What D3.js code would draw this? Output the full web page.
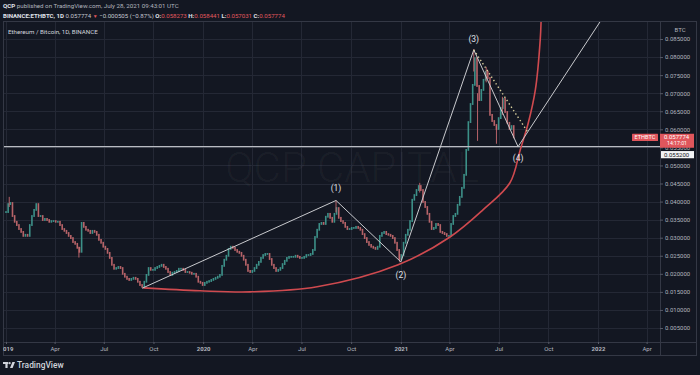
<!DOCTYPE html>
<html>
<head>
<meta charset="utf-8">
<script src="https://cdn.jsdelivr.net/npm/d3@7"></script>
<style>
  html, body { margin: 0; padding: 0; background: #131722; }
  svg { display: block; }
  text { font-family: Roboto, "Noto Sans", sans-serif; }
</style>
</head>
<body>
<script>
const startDate = "2019-01-01"
const stepDays = 4
const closes = [
  0.0371, 0.0393, 0.0396, 0.0360, 0.0344, 0.0335, 0.0324, 0.0316, 0.0305, 0.0308,
  0.0305, 0.0335, 0.0360, 0.0377, 0.0393, 0.0360, 0.0360, 0.0349, 0.0352, 0.0349,
  0.0344, 0.0346, 0.0346, 0.0344, 0.0344, 0.0335, 0.0324, 0.0319, 0.0313, 0.0305,
  0.0299, 0.0288, 0.0283, 0.0272, 0.0261, 0.0341, 0.0330, 0.0322, 0.0319, 0.0313,
  0.0319, 0.0316, 0.0308, 0.0294, 0.0286, 0.0275, 0.0269, 0.0258, 0.0244, 0.0225,
  0.0214, 0.0216, 0.0219, 0.0216, 0.0200, 0.0192, 0.0186, 0.0183, 0.0186, 0.0189,
  0.0186, 0.0178, 0.0169, 0.0164, 0.0178, 0.0197, 0.0216, 0.0211, 0.0211, 0.0216,
  0.0219, 0.0222, 0.0225, 0.0219, 0.0214, 0.0205, 0.0197, 0.0203, 0.0205, 0.0208,
  0.0214, 0.0214, 0.0211, 0.0205, 0.0205, 0.0203, 0.0200, 0.0200, 0.0192, 0.0178,
  0.0175, 0.0169, 0.0175, 0.0178, 0.0180, 0.0183, 0.0186, 0.0189, 0.0192, 0.0197,
  0.0222, 0.0239, 0.0250, 0.0269, 0.0275, 0.0272, 0.0266, 0.0261, 0.0258, 0.0250,
  0.0239, 0.0225, 0.0208, 0.0205, 0.0208, 0.0216, 0.0225, 0.0233, 0.0244, 0.0252,
  0.0255, 0.0255, 0.0241, 0.0225, 0.0216, 0.0208, 0.0211, 0.0216, 0.0227, 0.0236,
  0.0244, 0.0247, 0.0247, 0.0247, 0.0250, 0.0247, 0.0244, 0.0244, 0.0247, 0.0252,
  0.0252, 0.0255, 0.0266, 0.0302, 0.0322, 0.0338, 0.0341, 0.0338, 0.0358, 0.0366,
  0.0355, 0.0344, 0.0366, 0.0382, 0.0355, 0.0346, 0.0341, 0.0330, 0.0324, 0.0324,
  0.0327, 0.0327, 0.0330, 0.0327, 0.0322, 0.0310, 0.0299, 0.0288, 0.0280, 0.0275,
  0.0272, 0.0269, 0.0275, 0.0305, 0.0313, 0.0316, 0.0310, 0.0308, 0.0305, 0.0299,
  0.0286, 0.0266, 0.0241, 0.0252, 0.0286, 0.0308, 0.0322, 0.0346, 0.0405, 0.0418,
  0.0432, 0.0443, 0.0432, 0.0399, 0.0385, 0.0366, 0.0344, 0.0324, 0.0327, 0.0338,
  0.0335, 0.0316, 0.0313, 0.0310, 0.0305, 0.0305, 0.0338, 0.0360, 0.0366, 0.0391,
  0.0413, 0.0438, 0.0474, 0.0543, 0.0620, 0.0670, 0.0723, 0.0797, 0.0720, 0.0681,
  0.0709, 0.0737, 0.0759, 0.0742, 0.0640, 0.0623, 0.0612, 0.0601, 0.0631, 0.0659,
  0.0684, 0.0648, 0.0618, 0.0601, 0.0609, 0.057774
]

// visible long wicks
const spikeDates = ["2019-01-07", "2019-05-16", "2020-09-03", "2020-12-30", "2021-02-05",
                    "2021-05-16", "2021-05-23", "2021-06-08", "2021-06-27", "2021-07-08"]
const spikeLows  = [0.0385, 0.0245, 0.0370, 0.0232, 0.0425, 0.0760, 0.0568, 0.0730, 0.0560, 0.0640]
const spikeHighs = [0.0413, 0.0275, 0.0403, 0.0255, 0.0452, 0.0822, 0.0700, 0.0773, 0.0610, 0.0690]

// drawings
const waveDates  = ["2019-09-10", "2020-09-03", "2021-01-01", "2021-05-16", "2021-08-06"]
const wavePrices = [0.0160, 0.0403, 0.0233, 0.0820, 0.0552]
const waveLabels = ["", "(1)", "(2)", "(3)", "(4)"]
const rayDates  = ["2021-08-06", "2022-01-23"]
const rayPrices = [0.0552, 0.0939]
const dotDates  = ["2021-05-16", "2021-08-25"]
const dotPrices = [0.0820, 0.0590]
const curveDates  = ["2019-09-12", "2019-12-26", "2020-03-28", "2020-07-30", "2020-12-27", "2021-04-02",
                     "2021-06-02", "2021-07-22", "2021-08-10", "2021-08-25", "2021-09-07", "2021-09-16", "2021-09-18"]
const curvePrices = [0.0161, 0.0153, 0.0150, 0.0164, 0.0225, 0.0302,
                     0.0377, 0.0452, 0.0543, 0.0618, 0.0709, 0.0847, 0.0920]
const levelPrice = 0.0552
const lastPrice = 0.057774

const yTicks = d3.range(1, 18).map(i => i * 0.005)

const W = 700, H = 375
const pane = { left: 3, right: 660, top: 22, bottom: 342 }
const parse = d3.utcParse("%Y-%m-%d")

const x = d3.scaleUtc()
  .domain([parse("2019-01-01"), parse("2022-01-01")])
  .range([6, 598])
const y = d3.scaleLinear().domain([0.005, 0.085]).range([328, 39])

const svg = d3.select("body").append("svg")
  .attr("width", W).attr("height", H)
  .attr("xmlns", "http://www.w3.org/2000/svg")

svg.append("rect").attr("width", W).attr("height", H).attr("fill", "#131722")

const defs = svg.append("defs")
defs.append("clipPath").attr("id", "paneClip").append("rect")
  .attr("x", pane.left).attr("y", pane.top)
  .attr("width", pane.right - pane.left).attr("height", pane.bottom - pane.top)
defs.append("clipPath").attr("id", "axisClip").append("rect")
  .attr("x", pane.left).attr("y", 0).attr("width", pane.right - pane.left).attr("height", 14)

const xa = x.copy().domain([x.invert(pane.left), x.invert(pane.right)]).range([pane.left, pane.right])
const xTicks = xa.ticks(d3.utcMonth.every(3))

// grid
const g = svg.append("g").attr("clip-path", "url(#paneClip)")
g.selectAll(".vg").data(xTicks).enter().append("line")
  .attr("x1", d => Math.round(x(d)) + 0.5).attr("x2", d => Math.round(x(d)) + 0.5)
  .attr("y1", pane.top).attr("y2", pane.bottom)
  .attr("stroke", "#242835").attr("stroke-width", 1)
g.selectAll(".hg").data(yTicks).enter().append("line")
  .attr("x1", pane.left).attr("x2", pane.right)
  .attr("y1", d => Math.round(y(d)) + 0.5).attr("y2", d => Math.round(y(d)) + 0.5)
  .attr("stroke", "#242835").attr("stroke-width", 1)

// watermark
g.append("text")
  .attr("x", 352).attr("y", 182)
  .attr("text-anchor", "middle")
  .attr("font-size", 42).attr("font-weight", 300)
  .attr("fill", "#ffffff").attr("fill-opacity", 0.045)
  .text("QCP CAPITAL")

// candles
const candles = closes.map((c, i) => ({
  date: d3.utcDay.offset(parse(startDate), i * stepDays),
  open: i > 0 ? closes[i - 1] : c,
  close: c
}))
const bw = 1.6
g.selectAll(".candle").data(candles).enter().append("rect")
  .attr("x", d => x(d.date) - bw / 2)
  .attr("width", bw)
  .attr("y", d => Math.min(y(d.open), y(d.close)) - 0.9)
  .attr("height", d => Math.abs(y(d.open) - y(d.close)) + 1.8)
  .attr("fill", d => d.close >= d.open ? "#419d94" : "#c96b70")
  .attr("fill-opacity", 0.9)

g.selectAll(".spike").data(spikeDates).enter().append("line")
  .attr("x1", d => x(parse(d))).attr("x2", d => x(parse(d)))
  .attr("y1", (d, i) => y(spikeLows[i])).attr("y2", (d, i) => y(spikeHighs[i]))
  .attr("stroke", "#c96b70").attr("stroke-width", 0.9)

// horizontal level
g.append("line")
  .attr("x1", pane.left).attr("x2", pane.right)
  .attr("y1", y(levelPrice)).attr("y2", y(levelPrice))
  .attr("stroke", "#b9bbc2").attr("stroke-width", 1.1)

// red parabola
const line = d3.line().x(d => x(parse(d[0]))).y(d => y(d[1]))
g.append("path")
  .datum(curveDates.map((d, i) => [d, curvePrices[i]]))
  .attr("d", line.curve(d3.curveCatmullRom.alpha(0.5)))
  .attr("fill", "none").attr("stroke", "#cf4a4f").attr("stroke-width", 1.6)

const straight = d3.line().x(d => x(parse(d[0]))).y(d => y(d[1]))
g.append("path")
  .datum(waveDates.map((d, i) => [d, wavePrices[i]]))
  .attr("d", straight)
  .attr("fill", "none").attr("stroke", "#c9cace").attr("stroke-width", 1)
g.append("path")
  .datum(rayDates.map((d, i) => [d, rayPrices[i]]))
  .attr("d", straight)
  .attr("fill", "none").attr("stroke", "#c9cace").attr("stroke-width", 1)
g.append("path")
  .datum(dotDates.map((d, i) => [d, dotPrices[i]]))
  .attr("d", straight)
  .attr("fill", "none").attr("stroke", "#d8cf9c").attr("stroke-width", 1.4)
  .attr("stroke-dasharray", "1.4,2.6")

// wave labels
const labelDy = [0, -9, 16, -8, 14]
g.selectAll(".wl").data(waveLabels).enter().append("text")
  .attr("x", (d, i) => x(parse(waveDates[i])))
  .attr("y", (d, i) => y(wavePrices[i]) + labelDy[i])
  .attr("text-anchor", "middle")
  .attr("font-size", 8.5)
  .attr("fill", "#e0e2e7")
  .text(d => d)

// frame
svg.append("rect")
  .attr("x", pane.left + 0.5).attr("y", pane.top - 0.5)
  .attr("width", 693).attr("height", 356 - pane.top)
  .attr("fill", "none").attr("stroke", "#343845")
svg.append("line").attr("x1", pane.right + 0.5).attr("x2", pane.right + 0.5)
  .attr("y1", pane.top).attr("y2", 356).attr("stroke", "#343845")
svg.append("line").attr("x1", pane.left).attr("x2", 697)
  .attr("y1", pane.bottom + 0.5).attr("y2", pane.bottom + 0.5).attr("stroke", "#343845")

// right axis
const yAxis = svg.append("g")
  .attr("transform", `translate(${pane.right},0)`)
  .call(d3.axisRight(y).tickValues(yTicks).tickFormat(d3.format(".6f")).tickSize(3).tickPadding(2))
yAxis.select(".domain").remove()
yAxis.selectAll("line").attr("stroke", "#555966")
yAxis.selectAll("text").attr("font-size", 6).attr("fill", "#b2b5be").attr("font-family", "Roboto, sans-serif")

svg.append("text").attr("x", 680).attr("y", 32).attr("text-anchor", "middle")
  .attr("font-size", 6).attr("fill", "#b2b5be").text("BTC")

// bottom axis
const xAxis = svg.append("g")
  .attr("transform", `translate(0,${pane.bottom})`)
  .attr("clip-path", "url(#axisClip)")
  .call(d3.axisBottom(xa).tickValues(xTicks).tickSize(2).tickPadding(3)
    .tickFormat(d => d.getUTCMonth() === 0 ? d3.utcFormat("%Y")(d) : d3.utcFormat("%b")(d)))
xAxis.select(".domain").remove()
xAxis.selectAll("line").attr("stroke", "#555966")
xAxis.selectAll("text").attr("font-size", 6).attr("fill", "#b2b5be")
  .attr("font-family", "Roboto, sans-serif")
  .attr("font-weight", d => d.getUTCMonth() === 0 ? 700 : 400)

// price labels
const ly = y(lastPrice)
svg.append("rect").attr("x", 632).attr("y", ly - 3.6).attr("width", 26).attr("height", 7.2)
  .attr("fill", "#e0565c").attr("rx", 0.5)
svg.append("text").attr("x", 645).attr("y", ly + 2).attr("text-anchor", "middle")
  .attr("font-size", 5.6).attr("fill", "#ffffff").text("ETHBTC")
svg.append("rect").attr("x", 660).attr("y", ly - 3.6).attr("width", 34).attr("height", 14)
  .attr("fill", "#e0565c")
svg.append("text").attr("x", 664).attr("y", ly + 2).attr("font-size", 6).attr("fill", "#ffffff").text("0.057774")
svg.append("text").attr("x", 667).attr("y", ly + 8).attr("font-size", 5.2).attr("fill", "#ffffff").text("14:17:01")

const lv = y(levelPrice) + 8
svg.append("rect").attr("x", 661).attr("y", lv - 3.6).attr("width", 33).attr("height", 7.2)
  .attr("fill", "#f2f3f5")
svg.append("text").attr("x", 664).attr("y", lv + 2.2).attr("font-size", 6).attr("fill", "#131722").text("0.055200")

// header
const h1 = svg.append("text").attr("x", 3).attr("y", 8).attr("font-size", 6.2)
h1.append("tspan").attr("font-weight", 700).attr("fill", "#e0e3eb").text("QCP")
h1.append("tspan").attr("fill", "#b2b5be").text(" published on TradingView.com, July 28, 2021 09:43:01 UTC")

const red = "#e0575e"
const h2 = svg.append("text").attr("x", 3).attr("y", 17.5).attr("font-size", 6.1)
h2.append("tspan").attr("font-weight", 700).attr("fill", "#e0e3eb").text("BINANCE:ETHBTC, 1D")
h2.append("tspan").attr("fill", "#c3c6ce").text(" 0.057774 ")
h2.append("tspan").attr("fill", red).attr("font-size", 5).text("▼")
h2.append("tspan").attr("fill", "#c3c6ce").text(" −0.000505 (−0.87%) ")
const ohlc = [["O:", "0.058273"], ["H:", "0.058441"], ["L:", "0.057031"], ["C:", "0.057774"]]
ohlc.forEach(([k, v], i) => {
  h2.append("tspan").attr("fill", "#e0e3eb").attr("font-weight", 700).text((i ? " " : "") + k)
  h2.append("tspan").attr("fill", red).text(v)
})

svg.append("text").attr("x", 8).attr("y", 33.5).attr("font-size", 6.2)
  .attr("fill", "#d1d4dc").text("Ethereum / Bitcoin, 1D, BINANCE")

// TradingView logo
const logo = svg.append("g").attr("fill", "#d1d4dc")
logo.append("rect").attr("x", 3).attr("y", 362).attr("width", 5.2).attr("height", 2)
logo.append("rect").attr("x", 5.4).attr("y", 362).attr("width", 2.2).attr("height", 6)
logo.append("circle").attr("cx", 9.6).attr("cy", 363.2).attr("r", 1.1)
logo.append("path").attr("d", "M12.4,362 L15,362 L12.6,368 L10,368 Z")
svg.append("text").attr("x", 17).attr("y", 368).attr("font-size", 8.4).attr("font-weight", 500)
  .attr("fill", "#d1d4dc").text("TradingView")
</script>
</body>
</html>
